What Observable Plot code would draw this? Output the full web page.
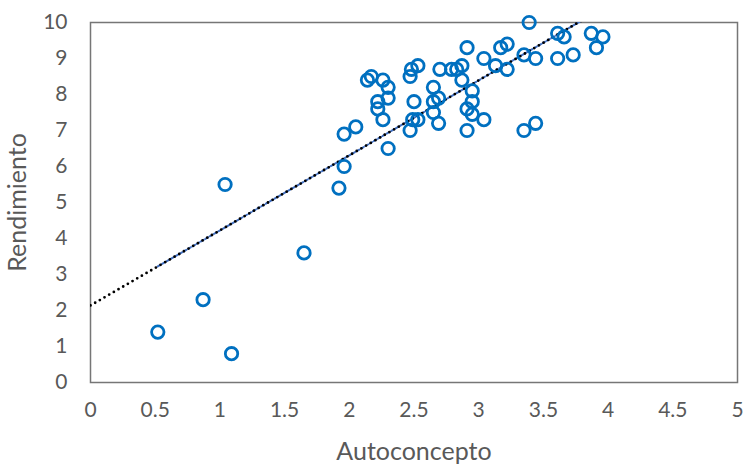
<!DOCTYPE html>
<html>
<head>
<meta charset="utf-8">
<script src="https://cdn.jsdelivr.net/npm/d3@7"></script>
<script src="https://cdn.jsdelivr.net/npm/@observablehq/plot@0.6"></script>
<style>
  html, body { margin: 0; padding: 0; background: #fff; }
  #chart svg { display: block; }
</style>
</head>
<body>
<div id="chart"></div>
<script>
// Autoconcepto (x) and Rendimiento (y)
const autoconcepto = [0.52, 0.87, 1.09, 1.04, 1.65, 1.92, 1.96, 1.96, 2.05, 2.14,
  2.17, 2.26, 2.30, 2.30, 2.22, 2.22, 2.26, 2.30, 2.47, 2.48,
  2.53, 2.50, 2.49, 2.47, 2.53, 2.70, 2.79, 2.83, 2.87, 2.65,
  2.65, 2.69, 2.65, 2.69, 2.87, 2.91, 2.95, 2.95, 2.91, 2.95,
  2.91, 3.04, 3.04, 3.13, 3.17, 3.22, 3.22, 3.35, 3.44, 3.39,
  3.35, 3.44, 3.61, 3.66, 3.61, 3.73, 3.87, 3.96, 3.91];
const rendimiento = [1.4, 2.3, 0.8, 5.5, 3.6, 5.4, 6.0, 6.9, 7.1, 8.4,
  8.5, 8.4, 8.2, 7.9, 7.8, 7.6, 7.3, 6.5, 8.5, 8.7,
  8.8, 7.8, 7.3, 7.0, 7.3, 8.7, 8.7, 8.7, 8.8, 8.2,
  7.8, 7.9, 7.5, 7.2, 8.4, 9.3, 8.1, 7.8, 7.6, 7.45,
  7.0, 7.3, 9.0, 8.8, 9.3, 9.4, 8.7, 9.1, 9.0, 10.0,
  7.0, 7.2, 9.7, 9.6, 9.0, 9.1, 9.7, 9.6, 9.3];
// linear trend
const trendIntercept = 2.14;
const trendSlope = 2.085;
const xTicks = [0, 0.5, 1, 1.5, 2, 2.5, 3, 3.5, 4, 4.5, 5];
const yTicks = [0, 1, 2, 3, 4, 5, 6, 7, 8, 9, 10];

const points = autoconcepto.map((x, i) => ({x, y: rendimiento[i]}));
const xMin = d3.min(autoconcepto);
const trendFull = [0, 5].map(x => ({x, y: trendIntercept + trendSlope * x}));
const trendData = [xMin, 5].map(x => ({x, y: trendIntercept + trendSlope * x}));

const chart = Plot.plot({
  width: 743,
  height: 464,
  marginLeft: 90,
  marginRight: 6,
  marginTop: 22,
  marginBottom: 82,
  style: {fontFamily: "Lato, 'Open Sans', sans-serif", fontSize: "21px", color: "#595959", background: "#fff"},
  x: {domain: [0, 5], ticks: xTicks, tickFormat: d => String(d), tickSize: 0, tickPadding: 20,
      label: "Autoconcepto", labelAnchor: "center", labelArrow: "none", labelOffset: 77},
  y: {domain: [0, 10], ticks: yTicks, tickFormat: d => String(d), tickSize: 0, tickPadding: 23,
      label: "Rendimiento", labelAnchor: "center", labelArrow: "none", labelOffset: 82},
  marks: [
    Plot.frame({stroke: "#767676", strokeWidth: 1.5}),
    Plot.line(trendData, {x: "x", y: "y", stroke: "#4472C4", strokeWidth: 2, strokeDasharray: "3,2", clip: "frame"}),
    Plot.line(trendFull, {x: "x", y: "y", stroke: "#000", strokeWidth: 2.8, strokeDasharray: "0,5.4", strokeLinecap: "round", clip: "frame"}),
    Plot.dot(points, {x: "x", y: "y", r: 6.2, stroke: "#0070C0", strokeWidth: 2.8, fill: "none"})
  ]
});
chart.querySelectorAll('[aria-label="x-axis label"] text, [aria-label="y-axis label"] text').forEach(t => t.style.fontSize = "25px");
document.getElementById("chart").appendChild(chart);
</script>
</body>
</html>
